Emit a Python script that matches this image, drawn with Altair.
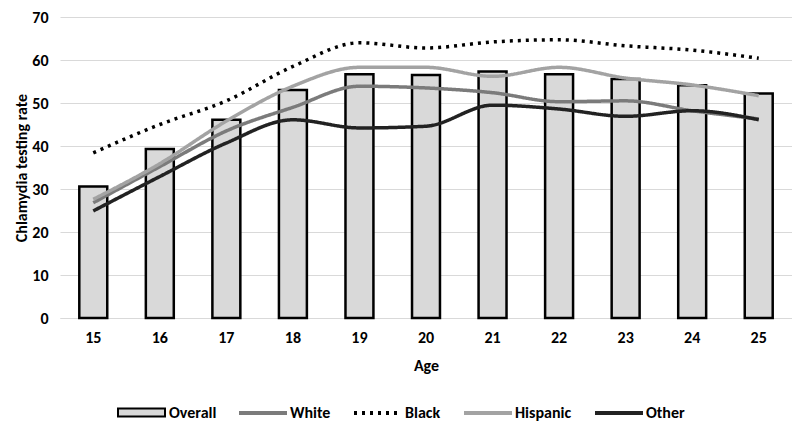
import altair as alt
import pandas as pd

ages = [15, 16, 17, 18, 19, 20, 21, 22, 23, 24, 25]
overall = [30.6, 39.3, 46.1, 53.0, 56.7, 56.5, 57.3, 56.7, 55.6, 54.1, 52.2]
white = [26.8, 35.2, 43.5, 49.0, 53.9, 53.5, 52.4, 50.3, 50.5, 48.2, 46.3]
black = [38.4, 45.0, 50.5, 58.5, 64.0, 62.8, 64.2, 64.7, 63.3, 62.3, 60.4]
hispanic = [27.6, 35.9, 45.8, 53.9, 58.3, 58.3, 56.2, 58.3, 55.8, 54.2, 51.7]
other = [24.9, 32.9, 40.7, 46.1, 44.2, 44.6, 49.5, 48.6, 46.9, 48.2, 46.1]

line_names = ["White", "Black", "Hispanic", "Other"]
line_colors = ["#7b7b7b", "#000000", "#a3a3a3", "#222222"]
line_dashes = [[1, 0], [3, 5], [1, 0], [1, 0]]

bar_df = pd.DataFrame({"age": ages, "series": ["Overall"] * len(ages), "value": overall})
rows = []
for name, vals in zip(line_names, [white, black, hispanic, other]):
    for a, v in zip(ages, vals):
        rows.append({"age": a, "series": name, "value": v})
line_df = pd.DataFrame(rows)

FONT = "Carlito, Lato, Liberation Sans"

x_enc = alt.X("age:O", title="Age",
              scale=alt.Scale(paddingInner=0.58, paddingOuter=0.29),
              axis=alt.Axis(labelAngle=0, ticks=False, domain=True, domainColor="#d9d9d9",
                            labelPadding=11, titlePadding=12))
y_enc = alt.Y("value:Q", title="Chlamydia testing rate",
              scale=alt.Scale(domain=[0, 70], nice=False),
              axis=alt.Axis(values=[0, 10, 20, 30, 40, 50, 60, 70], ticks=False, domain=False,
                            labelPadding=12, titlePadding=2, gridColor="#d9d9d9"))

LEG_Y = 370

bar_legend = alt.Legend(
    orient="none", legendX=57, legendY=LEG_Y + 1, direction="horizontal", title=None,
    symbolType="M-1,-0.17H1V0.17H-1Z", symbolSize=2209, symbolStrokeColor="#000000",
    symbolStrokeWidth=2, symbolFillColor="#d9d9d9", symbolOpacity=1,
    labelFontSize=16, labelFont=FONT, labelFontWeight="bold", labelColor="#000000",
    labelOffset=3,
)

line_legend = alt.Legend(
    orient="none", legendX=177, legendY=LEG_Y, direction="horizontal", title=None,
    symbolType="stroke", symbolSize=2304, symbolStrokeWidth=4, symbolOpacity=1,
    labelFontSize=16, labelFont=FONT, labelFontWeight="bold", labelColor="#000000",
    columnPadding=15, labelOffset=1,
)

bars = alt.Chart(bar_df).mark_bar(
    stroke="#000000", strokeWidth=2.5, opacity=1
).encode(
    x=x_enc, y=y_enc,
    fill=alt.Fill("series:N", scale=alt.Scale(domain=["Overall"], range=["#d9d9d9"]),
                  legend=bar_legend),
)

lines = alt.Chart(line_df).mark_line(
    strokeWidth=3.5, interpolate="monotone"
).encode(
    x=x_enc, y=y_enc,
    color=alt.Color("series:N", scale=alt.Scale(domain=line_names, range=line_colors),
                    legend=line_legend),
    strokeDash=alt.StrokeDash("series:N",
                              scale=alt.Scale(domain=line_names, range=line_dashes),
                              legend=line_legend),
)

chart = alt.layer(bars, lines).resolve_legend(fill="independent").properties(
    width=732, height=301,
    autosize=alt.AutoSizeParams(type="none"),
    padding={"left": 52, "top": 9, "right": 0, "bottom": 103},
).configure_view(stroke=None).configure_axis(
    labelFont=FONT, labelFontSize=16, labelFontWeight="bold", labelColor="#000000",
    titleFont=FONT, titleFontSize=16, titleFontWeight="bold", titleColor="#000000",
)

chart.save("out.html", embed_options={"renderer": "svg", "actions": False})
